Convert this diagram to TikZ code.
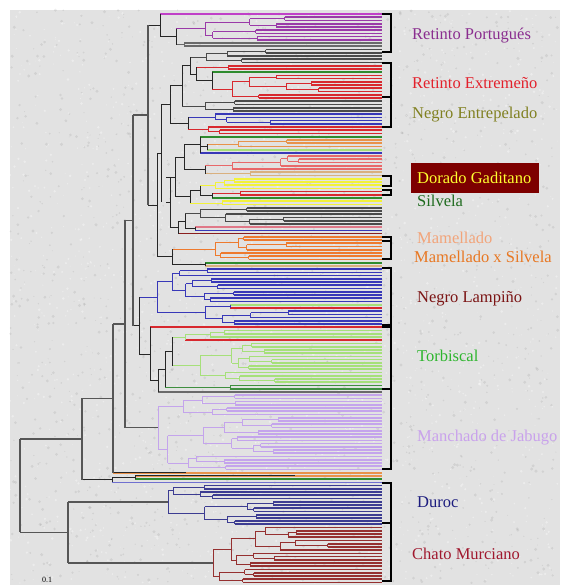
\documentclass[tikz,border=0pt]{standalone}
\usepackage{fontspec}
\setmainfont{Liberation Serif}
\definecolor{cBG}{HTML}{E2E2E2}
\definecolor{cBB}{HTML}{565656}
\definecolor{cMag}{HTML}{C040C8}
\definecolor{cPur}{HTML}{9A3AA8}
\definecolor{cGry}{HTML}{6A6A6A}
\definecolor{cDkg}{HTML}{4A4A4A}
\definecolor{cRed}{HTML}{D8282E}
\definecolor{cLrd}{HTML}{E8686A}
\definecolor{cGrn}{HTML}{2E8B2E}
\definecolor{cLgr}{HTML}{A6E07A}
\definecolor{cDgr}{HTML}{3F8F3F}
\definecolor{cBlu}{HTML}{3838B8}
\definecolor{cLbl}{HTML}{7070D0}
\definecolor{cOrg}{HTML}{E8924A}
\definecolor{cTan}{HTML}{D9B07E}
\definecolor{cYel}{HTML}{F2F23A}
\definecolor{cPnk}{HTML}{E07888}
\definecolor{cDrd}{HTML}{8A1E1E}
\definecolor{cMam}{HTML}{EE7A2E}
\definecolor{cMan}{HTML}{C4A4EC}
\definecolor{cNav}{HTML}{3C3C92}
\definecolor{cCha}{HTML}{953030}
\definecolor{tRP}{HTML}{8A2D8F}
\definecolor{tRE}{HTML}{E3202B}
\definecolor{tNE}{HTML}{808020}
\definecolor{tDG}{HTML}{7D0000}
\definecolor{tDGt}{HTML}{FFFF30}
\definecolor{tSI}{HTML}{1F6B1F}
\definecolor{tMA}{HTML}{F2A47A}
\definecolor{tMS}{HTML}{E87722}
\definecolor{tNL}{HTML}{7B1414}
\definecolor{tTO}{HTML}{2CB52C}
\definecolor{tMJ}{HTML}{C9A2EC}
\definecolor{tDU}{HTML}{1C1C7E}
\definecolor{tCM}{HTML}{A0182E}
\newcount\rngc

\begin{document}
\begin{tikzpicture}[
    x=1pt, y=-1pt,
    bb/.style={draw=cBB, line width=1.4pt},
    bk/.style={draw=black!85, line width=0.9pt},
    brk/.style={draw=black, line width=2.2pt},
    lfMag/.style={draw=cMag, line width=0.9pt},
    lfPur/.style={draw=cPur, line width=0.9pt},
    lfGry/.style={draw=cGry, line width=0.9pt},
    lfDkg/.style={draw=cDkg, line width=0.9pt},
    lfRed/.style={draw=cRed, line width=0.9pt},
    lfLrd/.style={draw=cLrd, line width=0.9pt},
    lfGrn/.style={draw=cGrn, line width=0.9pt},
    lfLgr/.style={draw=cLgr, line width=0.9pt},
    lfDgr/.style={draw=cDgr, line width=0.9pt},
    lfBlu/.style={draw=cBlu, line width=0.9pt},
    lfLbl/.style={draw=cLbl, line width=0.9pt},
    lfOrg/.style={draw=cOrg, line width=0.9pt},
    lfTan/.style={draw=cTan, line width=0.9pt},
    lfYel/.style={draw=cYel, line width=0.9pt},
    lfPnk/.style={draw=cPnk, line width=0.9pt},
    lfDrd/.style={draw=cDrd, line width=0.9pt},
    lfMam/.style={draw=cMam, line width=0.9pt},
    lfMan/.style={draw=cMan, line width=0.9pt},
    lfNav/.style={draw=cNav, line width=0.9pt},
    lfCha/.style={draw=cCha, line width=0.9pt},
    lbl/.style={anchor=base west, inner sep=0pt, font=\fontsize{16.5}{18}\selectfont}
 ]
\def\tipX{382}
\def\sep{3.23}
\def\lfw{1.7pt}
\xdef\curY{14}
\global\rngc=1234

% pseudo random 0..1000
\def\nextrand{\global\rngc=\numexpr\rngc*171\relax
  \global\rngc=\numexpr\rngc-30269*(\rngc/30269)\relax
  \ifnum\rngc<0 \global\advance\rngc by 30269 \fi
  \edef\rv{\the\numexpr\rngc*1000/30269\relax}}

% subtree: parent x, own x, leaves, style, max step
\def\sub#1#2#3#4#5{%
  \ifnum#3=1\relax
    \draw[#4, line width=\lfw] (#1,\curY) -- (\tipX,\curY);
    \xdef\ancy{\curY}%
    \pgfmathsetmacro\tmpy{\curY+\sep}\xdef\curY{\tmpy}%
  \else
    \begingroup
    \edef\mypx{#1}\edef\myx{#2}\edef\myn{#3}\edef\mydx{#5}%
    \nextrand\pgfmathsetmacro\xa{min(\myx+4+(\rv/1000)*\mydx,366)}%
    \nextrand\pgfmathsetmacro\xb{min(\myx+4+(\rv/1000)*\mydx,366)}%
    \nextrand\pgfmathtruncatemacro\na{max(1,min(\myn-1,round(\myn*(0.25+0.5*\rv/1000))))}%
    \pgfmathtruncatemacro\nb{\myn-\na}%
    \sub{\myx}{\xa}{\na}{#4}{\mydx}\let\ya\ancy
    \sub{\myx}{\xb}{\nb}{#4}{\mydx}\let\yb\ancy
    \draw[#4] (\myx,\ya) -- (\myx,\yb);
    \pgfmathsetmacro\ym{(\ya+\yb)/2}%
    \draw[#4] (\mypx,\ym) -- (\myx,\ym);
    \xdef\ancy{\ym}%
    \endgroup
  \fi}

% join: style, parent x, own x, first, last
\def\jn#1#2#3#4#5{%
  \draw[#1] (#3,#4) -- (#3,#5);
  \pgfmathsetmacro\ym{(#4+#5)/2}%
  \draw[#1] (#2,\ym) -- (#3,\ym);
  \xdef\ancy{\ym}}

\fill[white] (0,0) rectangle (560,585);
\fill[cBG] (10,10) rectangle (560,585);
\useasboundingbox (0,0) rectangle (560,585);

% granite texture
\pgfmathsetseed{42}
\foreach \i in {1,...,1600} {
    \fill[black, opacity=0.07] (10+rnd*548,10+rnd*573) circle (0.5+rnd*1.2);
    \fill[white, opacity=0.35] (10+rnd*548,10+rnd*573) circle (0.4+rnd*1.0);
}

% Retinto Portugues
\sub{160}{0}{1}{lfMag}{0}\let\kA\ancy
\sub{176}{205}{8}{lfPur}{42}\let\kB\ancy
\sub{176}{184}{2}{lfGry}{80}\let\kC\ancy
\jn{bk}{160}{176}{\kB}{\kC}\let\kD\ancy
\jn{bk}{148}{160}{\kA}{\kD}\let\kP\ancy

% upper middle
\sub{190}{206}{5}{lfDkg}{50}\let\kE\ancy
\sub{196}{228}{2}{lfRed}{60}\let\kF\ancy
\sub{212}{0}{1}{lfGrn}{0}\let\kG\ancy
\sub{212}{232}{8}{lfRed}{40}\let\kH\ancy
\jn{bk}{196}{212}{\kG}{\kH}\let\kI\ancy
\jn{bk}{190}{196}{\kF}{\kI}\let\kJ\ancy
\jn{bk}{182}{190}{\kE}{\kJ}\let\kK\ancy
\sub{182}{205}{4}{lfDkg}{60}\let\kL\ancy
\jn{bk}{170}{182}{\kK}{\kL}\let\kM\ancy
\sub{188}{215}{4}{lfBlu}{55}\let\kN\ancy
\sub{188}{208}{3}{lfRed}{65}\let\kO\ancy
\jn{bk}{170}{188}{\kN}{\kO}\let\kQ\ancy
\jn{bk}{161}{170}{\kM}{\kQ}\let\kR\ancy

% lower middle
\sub{200}{0}{1}{lfGrn}{0}\let\mA\ancy
\sub{207}{238}{3}{lfOrg}{50}\let\mB\ancy
\sub{207}{0}{1}{lfLgr}{0}\let\mC\ancy
\jn{bk}{200}{207}{\mB}{\mC}\let\mD\ancy
\sub{200}{0}{1}{lfBlu}{0}\let\mE\ancy
\jn{bk}{184}{200}{\mA}{\mE}\let\mF\ancy
\sub{205}{232}{5}{lfLrd}{45}\let\mG\ancy
\sub{205}{250}{2}{lfTan}{60}\let\mH\ancy
\jn{bk}{184}{205}{\mG}{\mH}\let\mI\ancy
\jn{bk}{175}{184}{\mF}{\mI}\let\mJ\ancy
\sub{200}{215}{4}{lfYel}{40}\let\mK\ancy
\sub{212}{240}{2}{lfRed}{60}\let\mL\ancy
\sub{212}{0}{1}{lfGrn}{0}\let\mM\ancy
\jn{bk}{200}{212}{\mL}{\mM}\let\mN\ancy
\jn{bk}{190}{200}{\mK}{\mN}\let\mP\ancy
\sub{190}{222}{2}{lfYel}{60}\let\mO\ancy
\jn{bk}{175}{190}{\mP}{\mO}\let\mQ\ancy
\jn{bk}{166}{175}{\mJ}{\mQ}\let\mR\ancy
\sub{185}{200}{6}{lfDkg}{55}\let\mS\ancy
\sub{195}{0}{1}{lfPnk}{0}\let\mT\ancy
\sub{195}{0}{1}{lfBlu}{0}\let\mU\ancy
\jn{bk}{185}{195}{\mT}{\mU}\let\mV\ancy
\jn{bk}{178}{185}{\mS}{\mV}\let\mX\ancy
\sub{178}{0}{1}{lfDrd}{0}\let\mW\ancy
\jn{bk}{170}{178}{\mX}{\mW}\let\mY\ancy
\jn{bk}{166}{170}{\mR}{\mY}\let\mZ\ancy
\jn{bk}{157}{161}{\kR}{\mZ}\let\nA\ancy

% Mamellado
\sub{172}{215}{8}{lfMam}{40}\let\nB\ancy
\sub{205}{0}{1}{lfGrn}{0}\let\nC\ancy
\sub{205}{0}{1}{lfTan}{0}\let\nD\ancy
\jn{bk}{172}{205}{\nC}{\nD}\let\nE\ancy
\jn{bk}{157}{172}{\nB}{\nE}\let\nF\ancy
\jn{bk}{148}{157}{\nA}{\nF}\let\nG\ancy
\jn{bb}{133}{148}{\kP}{\nG}\let\nH\ancy

% Negro Lampino
\sub{157}{172}{11}{lfBlu}{36}\let\nI\ancy
\sub{230}{0}{1}{lfLgr}{0}\let\nJ\ancy
\sub{230}{0}{1}{lfRed}{0}\let\nK\ancy
\jn{lfBlu}{205}{230}{\nJ}{\nK}\let\nL\ancy
\sub{205}{222}{5}{lfBlu}{45}\let\nM\ancy
\jn{lfBlu}{157}{205}{\nL}{\nM}\let\nN\ancy
\jn{lfBlu}{139}{157}{\nI}{\nN}\let\nO\ancy

% Torbiscal
\sub{150}{0}{1}{lfRed}{0}\let\nP\ancy
\sub{185}{210}{3}{lfLgr}{45}\let\nQ\ancy
\sub{185}{0}{1}{lfRed}{0}\let\nR\ancy
\jn{lfLgr}{172}{185}{\nQ}{\nR}\let\nS\ancy
\sub{172}{200}{13}{lfLgr}{36}\let\nT\ancy
\jn{bk}{165}{172}{\nS}{\nT}\let\nU\ancy
\sub{165}{230}{2}{lfDgr}{60}\let\nV\ancy
\jn{bk}{158}{165}{\nU}{\nV}\let\nW\ancy
\sub{158}{0}{1}{lfGry}{0}\let\nX\ancy
\jn{bk}{150}{158}{\nW}{\nX}\let\nY\ancy
\jn{bk}{139}{150}{\nP}{\nY}\let\nZ\ancy
\jn{bk}{133}{139}{\nO}{\nZ}\let\oA\ancy
\jn{bb}{125}{133}{\nH}{\oA}\let\oB\ancy

% Manchado de Jabugo
\sub{125}{158}{24}{lfMan}{40}\let\oC\ancy
\draw[bb] (125,\oC) -- (158,\oC);
\jn{bb}{113}{125}{\oB}{\oC}\let\oD\ancy
\sub{113}{0}{1}{lfOrg}{0}\let\oE\ancy
\draw[bk] (113,\oE) -- (186,\oE);
\jn{bb}{82}{113}{\oD}{\oE}\let\oF\ancy
\sub{135}{0}{1}{lfOrg}{0}\let\oG\ancy
\draw[bk] (135,\oG) -- (295,\oG);
\sub{135}{0}{1}{lfGrn}{0}\let\oH\ancy
\jn{bk}{112}{135}{\oG}{\oH}\let\oI\ancy
\sub{112}{0}{1}{lfLbl}{0}\let\oJ\ancy
\jn{bk}{82}{112}{\oI}{\oJ}\let\oK\ancy
\jn{bb}{20}{82}{\oF}{\oK}\let\oL\ancy

% Duroc and Chato Murciano
\sub{68}{168}{13}{lfNav}{42}\let\oM\ancy
\draw[bb] (68,\oM) -- (168,\oM);
\sub{68}{213}{18}{lfCha}{38}\let\oN\ancy
\draw[bb] (68,\oN) -- (213,\oN);
\jn{bb}{20}{68}{\oM}{\oN}\let\oO\ancy
\draw[bb] (20,\oL) -- (20,\oO);

% brackets
\foreach \yt/\yb in {14/52, 63/97, 97/127, 176/186, 190/195, 237/259, 268/325, 327/389, 389/469, 483/523, 523/581} {
    \draw[brk] (382,\yt) -- (391,\yt) -- (391,\yb) -- (382,\yb);
}
\draw[brk] (382,241) -- (391,241);

\fill[tDG] (411,163) rectangle (539,193);

\node[lbl, text=tRP] (lblRP) at (412,40) {Retinto Portugués};
\node[lbl, text=tRE] (lblRE) at (412,89) {Retinto Extremeño};
\node[lbl, text=tNE] (lblNE) at (412,119) {Negro Entrepelado};
\node[lbl, text=tDGt] (lblDG) at (417,184) {Dorado Gaditano};
\node[lbl, text=tSI] (lblSI) at (417,206) {Silvela};
\node[lbl, text=tMA] (lblMA) at (417,243) {Mamellado};
\node[lbl, text=tMS] (lblMS) at (414,262) {Mamellado x Silvela};
\node[lbl, text=tNL] (lblNL) at (417,302) {Negro Lampiño};
\node[lbl, text=tTO] (lblTO) at (417,361) {Torbiscal};
\node[lbl, text=tMJ] (lblMJ) at (417,441) {Manchado de Jabugo};
\node[lbl, text=tDU] (lblDU) at (417,507) {Duroc};
\node[lbl, text=tCM] (lblCM) at (412,559) {Chato Murciano};
\node[anchor=base, inner sep=0pt, font=\fontsize{8}{9}\selectfont] (scl) at (47,582) {0.1};

\end{tikzpicture}
\end{document}
